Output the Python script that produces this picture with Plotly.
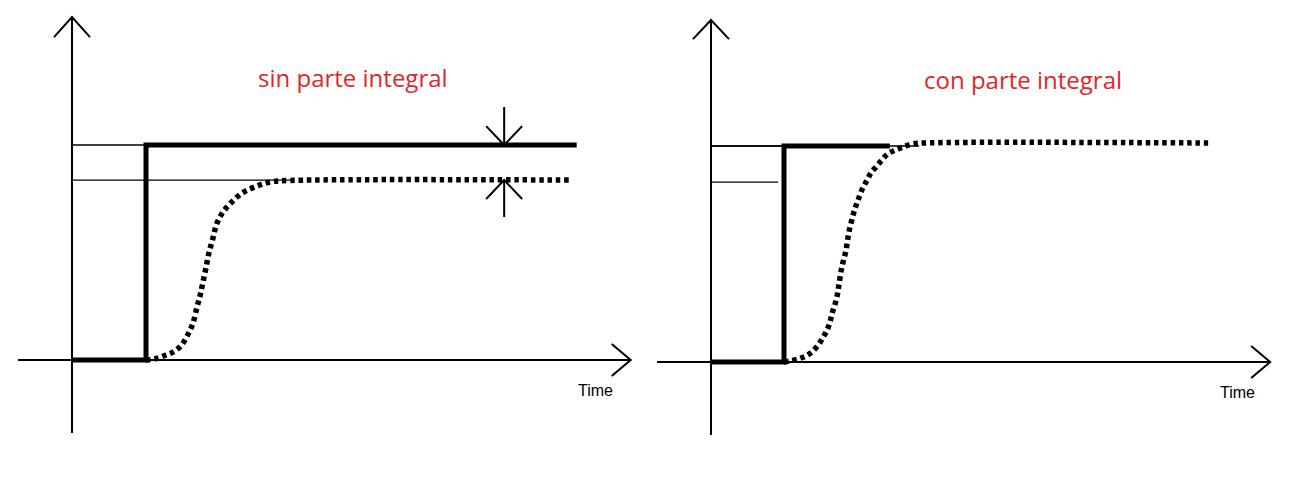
import plotly.graph_objects as go

# ---------------- data (time units: step applied at t = 1) ----------------
# Left panel: "sin parte integral" (P only -> steady-state offset)
setpoint_t_left = [0.0, 1.0, 1.0, 6.82]
setpoint_v_left = [0.0, 0.0, 1.0, 1.0]
resp_t_left = [1.0, 1.12, 1.27, 1.365, 1.47, 1.57, 1.635, 1.69, 1.73, 1.77, 1.81,
               1.85, 1.905, 1.96, 2.05, 2.16, 2.30, 2.47, 2.68, 2.95, 6.73]
resp_v_left = [0.0, 0.005, 0.023, 0.037, 0.065, 0.121, 0.172, 0.247, 0.298, 0.363, 0.428,
               0.498, 0.567, 0.637, 0.693, 0.735, 0.777, 0.805, 0.828, 0.835, 0.837]

# Right panel: "con parte integral" (PI -> no offset)
setpoint_t_right = [0.0, 1.0, 1.0, 2.45]
setpoint_v_right = [0.0, 0.0, 1.0, 1.0]
resp_t_right = [1.0, 1.19, 1.30, 1.38, 1.47, 1.53, 1.59, 1.63, 1.66, 1.70, 1.73, 1.75,
                1.79, 1.85, 1.89, 1.95, 1.99, 2.03, 2.08, 2.14, 2.19, 2.26, 2.34, 2.42,
                2.52, 2.63, 2.75, 2.93, 6.81]
resp_v_right = [0.0, 0.014, 0.028, 0.046, 0.079, 0.111, 0.148, 0.185, 0.227, 0.269, 0.310, 0.352,
                0.435, 0.519, 0.602, 0.685, 0.727, 0.764, 0.806, 0.843, 0.875, 0.903, 0.935, 0.963,
                0.981, 0.995, 1.009, 1.014, 1.014]

titles = ["sin parte integral", "con parte integral"]
axis_label = "Time"

# reference levels (thin lines from the vertical axis)
ref_left = [(1.0, 1.0), (0.837, 3.0)]      # (level, end time)
ref_right = [(1.0, 1.0), (0.833, 0.92), (1.0, 2.85)]

# axis extents
ax_left = dict(t0=-0.73, t1=7.55, v0=-0.34, v1=1.595, wt=0.243, wv=0.093, at=0.257, av=0.074)
ax_right = dict(t0=-0.74, t1=7.66, v0=-0.338, v1=1.583, wt=0.247, wv=0.088, at=0.26, av=0.074)

# offset marker arrows (left panel)
offset_t = 5.84
offset_top = 1.177
offset_bottom = 0.665
offset_wing_t = 0.243
offset_wing_v = 0.088

BLACK = "#000000"
RED = "#e0262b"
DOTS = "4.5px,3.8px"

# ---------------- layout geometry ----------------
W, H = 1279, 464          # figure size (page body adds an 8 px margin)
PAGE_OFF = 8
LEFT_ORIGIN = (72, 360)
RIGHT_ORIGIN = (711, 362)
LEFT_SCALE = (74, 215)
RIGHT_SCALE = (73, 216)


def ranges(origin, scale, dom):
    ox = origin[0] - PAGE_OFF
    oy = origin[1] - PAGE_OFF
    x0 = (dom[0] * W - ox) / scale[0]
    x1 = (dom[1] * W - ox) / scale[0]
    y1 = oy / scale[1]
    y0 = -(H - oy) / scale[1]
    return [x0, x1], [y0, y1]


xr_l, yr_l = ranges(LEFT_ORIGIN, LEFT_SCALE, (0, 0.5))
xr_r, yr_r = ranges(RIGHT_ORIGIN, RIGHT_SCALE, (0.5, 1))

fig = go.Figure()


def add_line(xs, ys, xa, ya, width, color=BLACK, dash=None, shape="linear"):
    line = dict(color=color, width=width, shape=shape)
    if dash:
        line["dash"] = dash
    fig.add_trace(go.Scatter(x=xs, y=ys, mode="lines", line=line, xaxis=xa, yaxis=ya,
                             hoverinfo="skip", showlegend=False))


def draw_axes(a, xa, ya):
    add_line([0, 0], [a["v0"], a["v1"]], xa, ya, 2)
    add_line([-a["wt"], 0, a["wt"]], [a["v1"] - a["wv"], a["v1"], a["v1"] - a["wv"]], xa, ya, 2)
    add_line([a["t0"], a["t1"]], [0, 0], xa, ya, 2)
    add_line([a["t1"] - a["at"], a["t1"], a["t1"] - a["at"]], [a["av"], 0, -a["av"]], xa, ya, 2)


# ---- left panel ----
draw_axes(ax_left, "x", "y")
for lvl, tend in ref_left:
    add_line([0, tend], [lvl, lvl], "x", "y", 1.3)
add_line(resp_t_left, resp_v_left, "x", "y", 5.5, dash=DOTS, shape="spline")
add_line(setpoint_t_left, setpoint_v_left, "x", "y", 5)
add_line([offset_t, offset_t], [offset_top, 1.0], "x", "y", 2)
add_line([offset_t - offset_wing_t, offset_t, offset_t + offset_wing_t],
         [1.0 + offset_wing_v, 1.0, 1.0 + offset_wing_v], "x", "y", 2)
add_line([offset_t, offset_t], [offset_bottom, 0.837], "x", "y", 2)
add_line([offset_t - offset_wing_t, offset_t, offset_t + offset_wing_t],
         [0.837 - offset_wing_v, 0.837, 0.837 - offset_wing_v], "x", "y", 2)

# ---- right panel ----
draw_axes(ax_right, "x2", "y2")
for lvl, tend in ref_right:
    add_line([0, tend], [lvl, lvl], "x2", "y2", 1.3)
add_line(resp_t_right, resp_v_right, "x2", "y2", 5.5, dash=DOTS, shape="spline")
add_line(setpoint_t_right, setpoint_v_right, "x2", "y2", 5)

annotations = [
    dict(x=3.80, y=1.316, xref="x", yref="y", text=titles[0], showarrow=False,
         font=dict(family="Open Sans", size=24, color=RED)),
    dict(x=4.27, y=1.306, xref="x2", yref="y2", text=titles[1], showarrow=False,
         font=dict(family="Open Sans", size=24, color=RED)),
    dict(x=7.08, y=-0.14, xref="x", yref="y", text=axis_label, showarrow=False,
         font=dict(family="Liberation Sans", size=16, color=BLACK)),
    dict(x=7.21, y=-0.139, xref="x2", yref="y2", text=axis_label, showarrow=False,
         font=dict(family="Liberation Sans", size=16, color=BLACK)),
]

fig.update_layout(
    width=W, height=H,
    margin=dict(l=0, r=0, t=0, b=0),
    paper_bgcolor="white", plot_bgcolor="white",
    showlegend=False,
    annotations=annotations,
    xaxis=dict(domain=[0, 0.5], range=xr_l, visible=False, fixedrange=True),
    yaxis=dict(domain=[0, 1], range=yr_l, visible=False, fixedrange=True),
    xaxis2=dict(domain=[0.5, 1], range=xr_r, visible=False, fixedrange=True),
    yaxis2=dict(domain=[0, 1], range=yr_r, visible=False, fixedrange=True, anchor="x2"),
)

fig.write_html("out.html")
